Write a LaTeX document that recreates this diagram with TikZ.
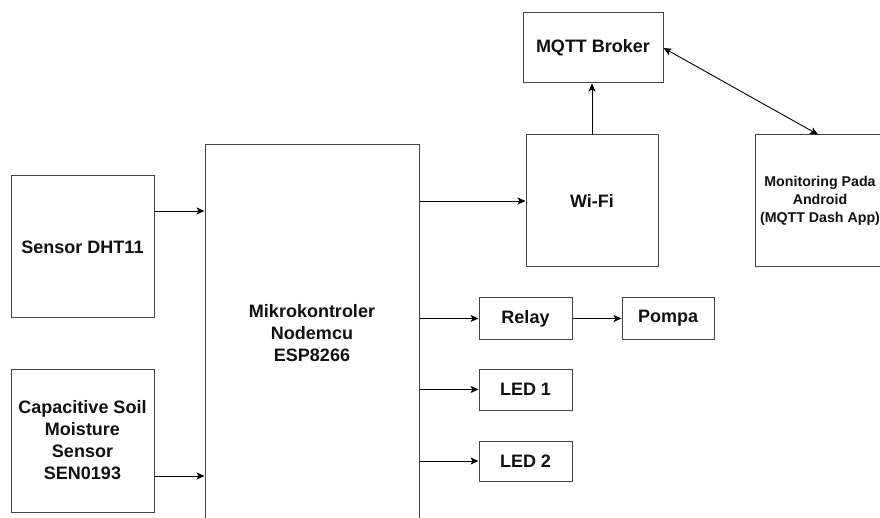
\documentclass[tikz,border=0pt]{standalone}
\usepackage{fontspec}
\setmainfont{Liberation Sans}
\usetikzlibrary{arrows.meta}
\definecolor{boxline}{HTML}{444444}
\definecolor{txt}{HTML}{111111}
\tikzset{
  blk/.style={draw=boxline, line width=1pt, fill=white, inner sep=0pt, align=center,
    text=txt, font=\fontsize{18}{22}\selectfont\bfseries},
  smalltxt/.style={font=\fontsize{14.2}{18}\selectfont\bfseries},
  arr/.style={-{Stealth[length=8pt,width=7pt,inset=2pt]}, line width=0.9pt, black},
  darr/.style={{Stealth[length=8pt,width=7pt,inset=2pt]}-{Stealth[length=8pt,width=7pt,inset=2pt]}, line width=0.9pt, black},
}
\begin{document}
\begin{tikzpicture}[x=1pt,y=-1pt]
\useasboundingbox[fill=white] (0,0) rectangle (880,518);
\node[blk, minimum width=143pt, minimum height=142pt] (dht) at (82.5,247) {Sensor DHT11};
\node[blk, minimum width=143pt, minimum height=143pt] (cap) at (82.5,440.5) {Capacitive Soil\\Moisture\\Sensor\\SEN0193};
\node[blk, minimum width=214pt, minimum height=376pt] (mcu) at (312,333) {Mikrokontroler\\Nodemcu\\ESP8266};
\node[blk, minimum width=132pt, minimum height=132pt] (wifi) at (592,201) {Wi-Fi};
\node[blk, minimum width=140pt, minimum height=70pt] (mqtt) at (593,48) {MQTT Broker};
\node[blk, smalltxt, minimum width=130pt, minimum height=132pt] (mon) at (820,201) {Monitoring Pada\\Android\\(MQTT Dash App)};
\node[blk, minimum width=93pt, minimum height=41pt] (relay) at (525.5,318.5) {Relay};
\node[blk, minimum width=92pt, minimum height=41pt] (pompa) at (668,318.5) {Pompa};
\node[blk, minimum width=93pt, minimum height=41pt] (led1) at (525.5,389.5) {LED 1};
\node[blk, minimum width=93pt, minimum height=40pt] (led2) at (525.5,461) {LED 2};

\draw[arr] ([yshift=36pt]dht.east) -- ([yshift=36pt]dht.east -| mcu.west);
\draw[arr] ([yshift=-35.5pt]cap.east) -- ([yshift=-35.5pt]cap.east -| mcu.west);
\draw[arr] (wifi.west -| mcu.east) -- (wifi.west);
\draw[arr] (relay.west -| mcu.east) -- (relay.west);
\draw[arr] (led1.west -| mcu.east) -- (led1.west);
\draw[arr] (led2.west -| mcu.east) -- (led2.west);
\draw[arr] (relay.east) -- (pompa.west);
\draw[arr] (wifi.north) -- (wifi.north |- mqtt.south);
\draw[darr] (mqtt.east) -- ([xshift=-2pt]mon.north);
\end{tikzpicture}
\end{document}
